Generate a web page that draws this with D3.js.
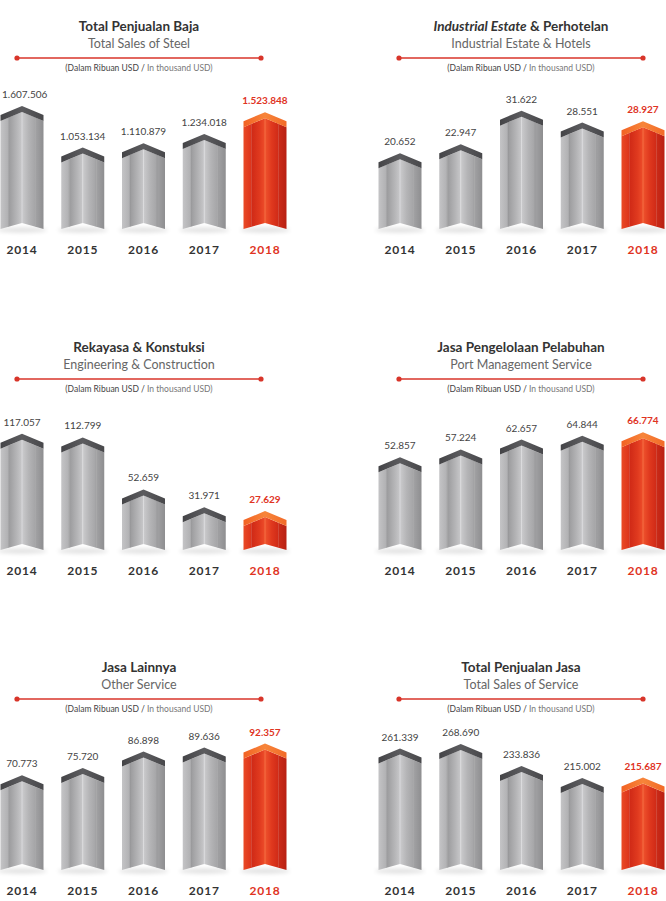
<!DOCTYPE html>
<html>
<head>
<meta charset="utf-8">
<script src="https://cdn.jsdelivr.net/npm/d3@7"></script>
<style>
  body { margin: 0; background: #fff; }
  text { font-family: Lato, "Open Sans", sans-serif; }
</style>
</head>
<body>
<div id="chart-area"></div>
<script>
// data (in thousand USD)
const years = ["2014", "2015", "2016", "2017", "2018"];
const steelSales = [1607506, 1053134, 1110879, 1234018, 1523848];
const estateHotels = [20652, 22947, 31622, 28551, 28927];
const engineering = [117057, 112799, 52659, 31971, 27629];
const portService = [52857, 57224, 62657, 64844, 66774];
const otherService = [70773, 75720, 86898, 89636, 92357];
const serviceSales = [261339, 268690, 233836, 215002, 215687];

const titlesId = ["Total Penjualan Baja", "Industrial Estate|& Perhotelan", "Rekayasa & Konstuksi",
    "Jasa Pengelolaan Pelabuhan", "Jasa Lainnya", "Total Penjualan Jasa"];
const titlesEn = ["Total Sales of Steel", "Industrial Estate & Hotels", "Engineering & Construction",
    "Port Management Service", "Other Service", "Total Sales of Service"];

// layout per panel: column, row, and a linear fit of bar height (px per unit + offset)
const panels = [
    { values: steelSales, col: 0, row: 0, slope: 0.000075, off: 2.5 },
    { values: estateHotels, col: 1, row: 0, slope: 0.00387, off: -4.1 },
    { values: engineering, col: 0, row: 1, slope: 0.000864, off: 15.1 },
    { values: portService, col: 1, row: 1, slope: 0.0018, off: -2.4 },
    { values: otherService, col: 0, row: 2, slope: 0.00147, off: -9.3 },
    { values: serviceSales, col: 1, row: 2, slope: 0.000636, off: -44.8 }
];

const W = 666, H = 901;
const idFmt = d3.formatLocale({ decimal: ",", thousands: ".", grouping: [3], currency: ["", ""] }).format(",d");

const svg = d3.select("#chart-area").append("svg")
    .attr("width", W).attr("height", H);

const defs = svg.append("defs");
function grad(id, stops) {
    const g = defs.append("linearGradient").attr("id", id)
        .attr("x1", 0).attr("x2", 1).attr("y1", 0).attr("y2", 0);
    stops.forEach(s => g.append("stop").attr("offset", s[0]).attr("stop-color", s[1]));
}
grad("gL", [[0, "#c4c4c6"], [1, "#b0b0b2"]]);
grad("gML", [[0, "#9a9a9c"], [0.6, "#b5b5b7"], [1, "#c8c8ca"]]);
grad("gMR", [[0, "#cbcbcd"], [0.5, "#b4b4b6"], [1, "#a4a4a6"]]);
grad("gR", [[0, "#a2a2a4"], [1, "#8e8e90"]]);
grad("rL", [[0, "#ea4a25"], [1, "#dc341c"]]);
grad("rML", [[0, "#cf2916"], [0.6, "#e03a1f"], [1, "#ee4d2a"]]);
grad("rMR", [[0, "#ef532d"], [0.5, "#df381e"], [1, "#cf2a17"]]);
grad("rR", [[0, "#cc2b18"], [1, "#b82012"]]);
grad("gCap", [[0, "#444447"], [0.5, "#5c5c5f"], [1, "#48484b"]]);
grad("rCap", [[0, "#f26224"], [0.5, "#f7853a"], [1, "#f26a28"]]);

defs.append("filter").attr("id", "blur")
    .attr("x", "-50%").attr("y", "-200%").attr("width", "200%").attr("height", "500%")
    .append("feGaussianBlur").attr("stdDeviation", 2);

const colX = [0, 378];
const titleX = [139, 521];
const rowY = [0, 321, 641];
const barW = 43, strip = 8, slopeTop = 9, capT = 6, notch = 6;

panels.forEach((p, i) => {
    const g = svg.append("g").attr("transform", `translate(${colX[p.col]},${rowY[p.row]})`);
    const tx = titleX[p.col] - colX[p.col];
    const base = 229;

    // titles
    const t = g.append("text").attr("x", tx).attr("y", 31)
        .attr("text-anchor", "middle").attr("font-size", "13.5px")
        .attr("font-weight", "bold").attr("fill", "#333");
    const parts = titlesId[i].split("|");
    if (parts.length > 1) {
        t.append("tspan").attr("font-style", "italic").text(parts[0]);
        t.append("tspan").text(" " + parts[1]);
    } else {
        t.text(parts[0]);
    }
    g.append("text").attr("x", tx).attr("y", 48)
        .attr("text-anchor", "middle").attr("font-size", "12.5px")
        .attr("fill", "#666").text(titlesEn[i]);

    // red rule with dots
    g.append("line").attr("x1", tx - 122).attr("x2", tx + 122)
        .attr("y1", 58).attr("y2", 58)
        .attr("stroke", "#d8352a").attr("stroke-width", 1.3);
    g.selectAll("circle.dot").data([tx - 122, tx + 122]).enter()
        .append("circle").attr("class", "dot")
        .attr("cx", d => d).attr("cy", 58).attr("r", 2.6).attr("fill", "#d8352a");

    const note = g.append("text").attr("x", tx).attr("y", 71)
        .attr("text-anchor", "middle").attr("font-size", "8.5px");
    note.append("tspan").attr("fill", "#444").text("(Dalam Ribuan USD / ");
    note.append("tspan").attr("fill", "#777").text("In thousand USD)");

    // scales
    const x = d3.scalePoint().domain(years).range([22, 265]);
    const maxV = d3.max(p.values);
    const h = d3.scaleLinear().domain([0, maxV]).range([p.off, p.slope * maxV + p.off]);

    const data = years.map((yr, j) => ({ year: yr, value: p.values[j], last: j === years.length - 1 }));

    const bars = g.selectAll("g.bar").data(data).enter().append("g").attr("class", "bar");

    bars.each(function (d) {
        const b = d3.select(this);
        const xc = x(d.year), x0 = xc - barW / 2, x1 = xc + barW / 2;
        const peak = base - h(d.value);
        const half = barW / 2;
        const yTop = xx => peak + capT + slopeTop * Math.abs(xx - xc) / half;
        const yBot = xx => base - notch * (1 - Math.abs(xx - xc) / half);
        const pre = d.last ? "r" : "g";

        // shadow
        b.append("ellipse").attr("cx", xc).attr("cy", base + 1).attr("rx", 25).attr("ry", 2.5)
            .attr("fill", "#000").attr("opacity", 0.12).attr("filter", "url(#blur)");

        const seg = (a, c, fill) => {
            const pts = [[a, yTop(a)]];
            if (a < xc && c > xc) pts.push([xc, yTop(xc)]);
            pts.push([c, yTop(c)], [c, yBot(c)]);
            if (a < xc && c > xc) pts.push([xc, yBot(xc)]);
            pts.push([a, yBot(a)]);
            b.append("path").attr("d", "M" + pts.join("L") + "Z").attr("fill", fill);
        };
        seg(x0, x0 + strip, `url(#${pre}L)`);
        seg(x0 + strip, xc, `url(#${pre}ML)`);
        seg(xc, x1 - strip, `url(#${pre}MR)`);
        seg(x1 - strip, x1, `url(#${pre}R)`);

        // edge lines between facets
        [x0 + strip, x1 - strip].forEach(ex => {
            b.append("line").attr("x1", ex).attr("x2", ex)
                .attr("y1", yTop(ex)).attr("y2", yBot(ex))
                .attr("stroke", d.last ? "#c42614" : "#8e8e90").attr("stroke-width", 0.6).attr("opacity", 0.7);
        });
        b.append("line").attr("x1", xc).attr("x2", xc)
            .attr("y1", yTop(xc)).attr("y2", yBot(xc))
            .attr("stroke", d.last ? "#f5764a" : "#dcdcde").attr("stroke-width", 0.8);

        // top cap
        const cap = [[x0, peak + slopeTop], [xc, peak], [x1, peak + slopeTop],
            [x1, peak + slopeTop + capT], [xc, peak + capT], [x0, peak + slopeTop + capT]];
        b.append("path").attr("d", "M" + cap.join("L") + "Z").attr("fill", `url(#${pre}Cap)`);

        // value label
        const lbl = b.append("text").attr("x", xc).attr("y", peak - 8)
            .attr("text-anchor", "middle").attr("font-size", "10px")
            .attr("font-weight", d.last ? "bold" : "normal")
            .attr("fill", d.last ? "#e0341f" : "#444")
            .text(idFmt(d.value));
        const lw = lbl.node().getComputedTextLength();
        if (colX[p.col] + xc - lw / 2 < 2) {
            lbl.attr("text-anchor", "start").attr("x", 2 - colX[p.col]);
        }

        // year label
        b.append("text").attr("x", xc).attr("y", base + 25)
            .attr("text-anchor", "middle").attr("font-size", "12px")
            .attr("font-weight", "bold").attr("letter-spacing", "0.8px")
            .attr("fill", d.last ? "#e0341f" : "#333")
            .text(d.year);
    });
});
</script>
</body>
</html>
